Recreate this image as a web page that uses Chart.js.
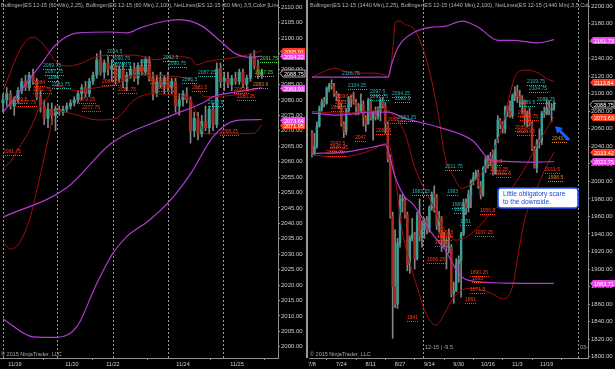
<!DOCTYPE html>
<html><head><meta charset="utf-8">
<script src="https://cdn.jsdelivr.net/npm/chart.js@4/dist/chart.umd.min.js"></script>
<style>
html,body{margin:0;padding:0;background:#000;}
#wrap{position:relative;width:615px;height:369px;background:#000;overflow:hidden;}
#cL{position:absolute;left:0;top:0;width:307px;height:369px;}
#cR{position:absolute;left:307px;top:0;width:308px;height:369px;}
#sep{position:absolute;left:306px;top:0;width:2px;height:358px;background:#9a9a9a;}
</style></head><body>
<div id="wrap"><canvas id="cL" width="307" height="369"></canvas><canvas id="cR" width="308" height="369"></canvas><div id="sep"></div></div>
<script>
// ---------------- DATA : hourly panel (ES 12-15, 60 min) ----------------
const hourTickIdx = [3.2, 18.4, 29.3, 48, 62.4];
const hourTickLabels = ['11/19','11/20','11/22','11/24','11/25'];
const hourSessions = [0, 14.4, 29.3, 44, 58.7];
// [open, high, low, close]
const hourBars = [
[2079,2082,2076,2080],[2080,2084,2078,2082],[2082,2083,2077,2078],[2078,2081,2075,2080],
[2080,2084,2079,2083],[2083,2087,2082,2086],[2086,2088,2083,2084],[2084,2089,2083,2088],
[2088,2090,2085,2086],[2086,2087,2080,2081],[2081,2083,2076,2078],[2078,2080,2072,2074],
[2074,2079,2071,2077],[2077,2079,2072,2075],[2075,2078,2070,2077],[2077,2078,2075,2076],
[2076,2078,2075,2077],[2077,2079,2076,2078],[2078,2080,2077,2079],[2079,2081,2078,2080],
[2080,2083,2079,2082],[2082,2085,2080,2084],[2084,2086,2081,2082],[2082,2087,2081,2086],
[2086,2089,2085,2088],[2088,2095,2087,2093],[2093,2096,2088,2089],[2089,2093,2087,2092],
[2092,2094,2088,2090],[2090,2093,2086,2091],[2091,2092,2085,2087],[2087,2091,2086,2090],
[2090,2092,2084,2086],[2086,2089,2083,2088],[2088,2091,2087,2090],[2090,2092,2086,2087],
[2087,2092,2085,2091],[2091,2093,2088,2089],[2089,2094,2088,2093],[2093,2094,2086,2087],
[2087,2089,2080,2082],[2082,2088,2081,2086],[2086,2089,2084,2085],[2085,2088,2082,2087],
[2087,2089,2083,2084],[2084,2087,2082,2086],[2086,2087,2076,2078],[2078,2082,2075,2080],
[2080,2083,2078,2082],[2082,2084,2079,2080],[2080,2081,2066,2070],[2070,2076,2068,2074],
[2074,2076,2067,2069],[2069,2075,2068,2073],[2073,2078,2070,2071],[2071,2078,2069,2077],
[2077,2079,2070,2072],[2072,2092,2071,2090],[2090,2092,2084,2086],[2086,2089,2083,2087],
[2087,2089,2084,2085],[2085,2088,2083,2087],[2087,2089,2085,2086],[2086,2090,2085,2089],
[2089,2090,2084,2085],[2085,2088,2083,2087],[2087,2095,2086,2094],[2094,2096,2090,2091],
[2091,2093,2087,2088],[2088,2090,2087,2088.75]
];
// Bollinger lines: [bar index, price]
const hBB25Up  = [[0,2083],[2,2089],[4,2095],[6,2099],[8,2100.3],[10,2099],[12,2096],[14,2092.5],[17,2091],[20,2091.5],[25,2094],[29,2094.5],[35,2094.5],[41,2093],[46,2094],[50,2093.6],[51.5,2091.3],[54,2092.3],[61,2093.6],[65,2094.5],[69,2095.91]];
const hBB25Mid = [[0,2058],[2,2060],[4,2064],[7,2070],[10,2078],[12,2081],[14,2084.5],[20,2083],[25,2084],[30,2085],[35,2088],[40,2088],[46,2087.5],[50,2086.5],[54,2081],[61,2081.5],[65,2082.5],[69,2083.93]];
const hBB25Low = [[0,2034],[2,2031.6],[4,2033],[7,2041],[10,2056],[12,2067],[14,2076.5],[20,2075],[25,2073.5],[30,2074],[35,2080],[40,2082],[46,2081.5],[50,2080],[52,2074],[54,2069],[60,2069],[67,2069.2],[69,2071.95]];
const hBB100Up  = [[0,2076],[6,2085],[11,2093],[14,2097.8],[20,2101.7],[29,2102],[33,2101.7],[37,2103.5],[43,2105.5],[47,2106],[53,2104],[58,2099],[62,2095],[66,2093.8],[69,2094.22]];
const hBB100Mid = [[0,2042],[17,2051.5],[29,2066],[44,2074.5],[54,2079.5],[56,2081],[62,2082.5],[69,2083.93]];
const hBB100Low = [[0,2009],[8,2003.2],[14.4,2003],[19.7,2006.5],[25,2020.5],[29.3,2030.3],[33,2035.7],[39,2041],[45,2048],[50,2056],[56,2068],[62,2073.3],[69,2073.64]];
// NetLines labels: [text, bar index, price]
const hCyanLabels = [['2094.5',27.7,2095.5],['2089.75',10.7,2091],['2087.75',11.2,2089.2],['2086',12,2087.2],['2083.75',13,2084.8],
  ['2091',36.5,2092.3],['2090.75',29,2093.2],['2089.5',30,2091],['2092.5',42.7,2093.6],['2090.75',44,2091.6],['2087.25',52,2088.7],['2086.5',47.7,2086.4],['2077.5',54.7,2079]];
const hRedLabels = [['2084',8.3,2085.4],['2082.75',7.9,2083.2],['2079.5',2.4,2080],['2077.75',4,2079],['2061.75',0,2063.1],
  ['2084.75',26.4,2085.7],['2081.75',30.7,2083.2],['2079.25',19.7,2080],['2077.75',21,2077.3],['2088.6',34.7,2089.7],
  ['2086.25',39.2,2086.4],['2083.75',40.5,2084],['2082.5',50.4,2083.8],['2068.25',57.9,2069.6],['2082.5',61.5,2083.3],['2080.25',62.5,2080.8]];
const hGreenLabels = [['2091.75',68.5,2093.2],['2087.25',67.2,2088.7]];
const hOrangeLabels = [['2083.6',66.7,2084.8]];
const hTagsBB25 = [2095.91, 2071.95];
const hTagsBB100 = [2094.22, 2083.93, 2073.64];
const hLast = 2088.75;

// ---------------- DATA : daily panel (ES 12-15, 1440 min) ----------------
const dayTickIdx = [0,12,24,36,48,60,72,84,96];
const dayTickLabels = ['7/8','7/24','8/11','8/27','9/14','9/30','10/16','11/3','11/19'];
const daySessions = [45.4, 108.8];
const dayBars = [
[2055,2058,2028,2032],[2032,2055,2030,2040],[2040,2068,2038,2063],[2063,2086,2062,2083],
[2083,2094,2080,2091],[2091,2096,2085,2089],[2089,2108,2088,2106],[2106,2112,2102,2110],
[2110,2116,2105,2109],[2109,2112,2097,2100],[2100,2103,2092,2097],[2097,2100,2083,2086],
[2086,2089,2063,2066],[2066,2068,2050,2057],[2057,2083,2053,2081],[2081,2097,2078,2095],
[2095,2098,2085,2094],[2094,2102,2088,2090],[2090,2094,2076,2085],[2085,2089,2076,2080],
[2080,2100,2079,2088],[2088,2092,2063,2073],[2073,2075,2057,2066],[2066,2095,2065,2093],
[2093,2094,2070,2072],[2072,2080,2047,2078],[2078,2085,2070,2074],[2074,2085,2071,2081],
[2081,2095,2069,2093],[2093,2096,2084,2086],[2086,2090,2055,2066],[2066,2068,2022,2025],
[2025,2030,1958,1960],[1960,1965,1821,1880],[1880,1945,1856,1860],[1860,1935,1855,1930],
[1930,1985,1925,1978],[1978,1985,1965,1980],[1980,1982,1958,1962],[1962,1965,1898,1905],
[1905,1938,1895,1935],[1935,1958,1932,1940],[1940,1942,1900,1912],[1912,1965,1910,1962],
[1962,1980,1932,1936],[1936,1955,1925,1945],[1945,1958,1935,1955],[1955,1960,1940,1945],
[1945,1972,1942,1970],[1970,1988,1967,1985],[1985,1995,1965,1982],[1982,1985,1945,1950],
[1950,1966,1942,1958],[1958,1960,1920,1932],[1932,1942,1925,1930],[1930,1935,1900,1925],
[1925,1946,1918,1925],[1925,1928,1868,1872],[1872,1885,1861,1875],[1875,1912,1874,1906],
[1906,1915,1885,1910],[1910,1942,1868,1940],[1940,1980,1938,1975],[1975,1980,1962,1970],
[1970,1990,1965,1985],[1985,2002,1970,2000],[2000,2010,1996,2005],[2005,2013,2002,2010],
[2010,2013,1992,1995],[1995,2000,1980,1985],[1985,2017,1983,2015],[2015,2028,2010,2025],
[2025,2030,2015,2028],[2028,2033,2018,2025],[2025,2036,2007,2010],[2010,2048,2008,2045],
[2045,2075,2044,2070],[2070,2072,2060,2065],[2065,2068,2055,2060],[2060,2086,2055,2085],
[2085,2087,2074,2080],[2080,2092,2073,2075],[2075,2100,2072,2098],[2098,2108,2092,2102],
[2102,2109.75,2090,2097],[2097,2104,2085,2093],[2093,2098,2078,2092],[2092,2093,2065,2073],
[2073,2080,2062,2076],[2076,2084,2064,2066],[2066,2068,2035,2037],[2037,2040,2015,2016],
[2016,2048,2010,2046],[2046,2060,2038,2045],[2045,2080,2042,2078],[2078,2085,2073,2077],
[2077,2093,2076,2084],[2084,2092,2076,2082],[2082,2088,2068,2083],[2083,2091,2081,2088.75]
];
const dBB25Up  = [[0,2119],[9.4,2129],[16.4,2123.6],[26,2123.6],[30,2121],[31.5,2119],[33,2150],[34.2,2182],[36,2183],[38.3,2178.5],[41,2176],[46.5,2142],[51.6,2078],[54.4,2028],[58,2005],[61.4,1992],[65.5,1998],[71,2016],[76,2047],[79,2075],[81,2100],[83.5,2122],[87.5,2127],[92.7,2123.6],[95.5,2118],[99,2113.84]];
const dBB25Mid = [[0,2080],[10,2078],[24,2080],[29,2083],[31.5,2080],[38,2055],[42,2016],[49,1975],[54.4,1944],[59,1933],[65,1940],[72,1960],[79,1982],[86,2010],[92.5,2043.6],[99,2073.63]];
const dBB25Low = [[0,2030],[10.6,2028],[17.6,2030],[24.5,2036],[30,2043],[31.5,2041],[34,2005],[36.8,1945],[40.9,1899],[43.4,1876],[46.5,1850],[50.7,1836],[54.4,1850],[57.5,1866],[61.4,1876],[65.5,1878],[73.6,1872],[77.7,1866],[82,1879.5],[84.4,1918],[87,1956],[92,1992],[95,2012],[99,2033.42]];
const dBB100Up  = [[0,2119],[31,2119],[32.7,2135],[35.2,2153],[42,2170.5],[49,2176],[54.4,2177],[61.4,2183],[68,2176],[76,2161],[82,2161],[92.5,2158],[99,2161.73]];
const dBB100Mid = [[0,2078],[10.6,2075.6],[24.5,2079],[31,2079],[38,2072],[51.6,2062],[65.5,2047],[73.6,2024],[92.5,2022],[99,2022.72]];
const dBB100Low = [[0,2032],[13.5,2033.5],[24.5,2039],[30,2041.6],[34,2005],[38,1982],[41,1975],[45,1959],[49,1941],[54.4,1922],[60,1895],[64,1887],[79,1884],[99,1883.71]];
const dCyanLabels = [['2116.75',12.3,2122.5],['2104.25',14.7,2108.6],['2097.5',23.7,2102],['2091.75',23.7,2096.6],['2094.25',32.7,2099.7],
  ['2088.5',34,2094],['2063.25',35.2,2072],['2011.75',54.4,2016.5],['1983.25',41,1987.7],['1983',55.2,1987.7],['1969',57.3,1973],
  ['1965',58,1967],['1951',60.6,1953.6],['2109.75',88,2113.4],['2104.75',88.8,2105.4],['2089.5',85,2089.4],['2088.25',92,2092.9]];
const dRedLabels = [['2093.25',10.2,2096.3],['2083.5',9.4,2089.4],['2080.8',7.8,2083.7],['2042.5',7.4,2042.7],['2036.25',7.4,2038],
  ['2028.75',5.7,2032.4],['2047',17.6,2049.5],['2062.5',26.2,2057.5],['2061.25',31,2070],['2018.5',71.6,2022],['2012.25',72.8,2013],
  ['2001.5',75.3,2008.4],['2056',84.3,2078],['2047.75',85.1,2073.5],['2035.5',83,2061],['2028.75',83.9,2056],['2011.5',95.3,2013],
  ['1950.5',68.7,1966],['1937.25',66.7,1941],['1929.5',51.6,1941],['1926.5',51.1,1936.4],['1924.5',50.3,1929.7],['1906.25',47,1910.3],
  ['1890.25',64.6,1895.5],['1883',65.5,1888.7],['1871.5',64.6,1876],['1861',62.6,1864.7],['1841',38.9,1844]];
const dOrangeLabels = [['2043.5',98,2048],['1998.5',96.6,2003.7]];
const dTagsBB25 = [2113.84, 2073.63, 2033.42];
const dTagsBB100 = [2161.73, 2022.75, 1883.71];
const dLast = 2088.75;

// ---------------- STYLE ----------------
const FONT = "'Liberation Sans', Arial, sans-serif";
Chart.defaults.font.family = FONT;
Chart.defaults.animation = false;
const AX='#8f8f8f', TXT='#cfcfcf';
const UP='#389f99', DN='#a5301d', WICK='#858585';
const RED_BB='#a30d0d', PUR_BB='#b13bd2';
const C_RED='#ff3b1c', C_CYAN='#2fb3ae', C_GREEN='#3ae03a', C_ORANGE='#e08a10';
const TAG_RED='#ff3b1f', TAG_MAG='#f046f0';

function lineDS(pts,color,w){
  return {type:'line',data:pts.map(p=>({x:p[0],y:p[1]})),borderColor:color,borderWidth:w,pointRadius:0,
          cubicInterpolationMode:'monotone',fill:false,order:0};
}
function drawLabels(chart,list,color){
  const g=chart.ctx,xs=chart.scales.x,ys=chart.scales.y;
  g.save();g.font="5px "+FONT;g.fillStyle=color;g.textBaseline='middle';
  for(const [t,xi,p] of list){
    const x=Math.round(xs.getPixelForValue(xi)),y=Math.round(ys.getPixelForValue(p));
    g.fillText(t,x,y);
    const w=g.measureText(t).width;
    for(let d=0;d<w;d+=2){g.fillRect(x+d,y+3,1,1);}
  }
  g.restore();
}
function drawTag(chart,v,fill,stroke){
  const g=chart.ctx,ys=chart.scales.y,x0=chart.chartArea.right+2,y=Math.round(ys.getPixelForValue(v))+0.5;
  g.save();
  g.beginPath();g.moveTo(x0,y);g.lineTo(x0+3,y-3.5);g.lineTo(x0+25,y-3.5);g.lineTo(x0+25,y+3.5);g.lineTo(x0+3,y+3.5);g.closePath();
  g.fillStyle=fill;g.fill();
  if(stroke){g.strokeStyle=stroke;g.lineWidth=1;g.stroke();}
  g.fillStyle='#fff';g.font="5.5px "+FONT;g.textBaseline='middle';g.fillText(v.toFixed(2),x0+4,y+0.5);
  g.restore();
}

function panel(id,o){
  const bars=o.bars;
  const ds=[
    {type:'bar',data:bars.map((b,i)=>({x:i,y:[b[2],b[1]]})),backgroundColor:WICK,barThickness:1,grouped:false,order:3},
    {type:'bar',data:bars.map((b,i)=>({x:i,y:[b[0],b[3]]})),backgroundColor:bars.map(b=>b[3]>=b[0]?UP:DN),
     barThickness:o.bw,minBarLength:1,grouped:false,order:2},
    lineDS(o.bb100[0],PUR_BB,1.2),lineDS(o.bb100[1],PUR_BB,1.2),lineDS(o.bb100[2],PUR_BB,1.2),
    lineDS(o.bb25[0],RED_BB,1),lineDS(o.bb25[1],RED_BB,1),lineDS(o.bb25[2],RED_BB,1)
  ];
  const deco={
    id:'deco'+id,
    beforeDraw(c){const g=c.ctx;g.save();g.fillStyle='#000';g.fillRect(0,0,c.width,c.height);g.restore();},
    beforeDatasetsDraw(c){
      const g=c.ctx,a=c.chartArea,xs=c.scales.x;
      g.save();g.strokeStyle='#9a9a9a';g.lineWidth=1;g.setLineDash([2,2]);
      for(const s of o.sessions){const x=Math.round(xs.getPixelForValue(s))+0.5;g.beginPath();g.moveTo(x,a.top);g.lineTo(x,a.bottom);g.stroke();}
      g.restore();
    },
    afterDatasetsDraw(c){
      drawLabels(c,o.red,C_RED);drawLabels(c,o.cyan,C_CYAN);
      if(o.green)drawLabels(c,o.green,C_GREEN);
      if(o.orange)drawLabels(c,o.orange,C_ORANGE);
    },
    afterDraw(c){
      const g=c.ctx,a=c.chartArea;
      o.tags25.forEach(v=>drawTag(c,v,TAG_RED));
      o.tags100.forEach(v=>drawTag(c,v,TAG_MAG));
      drawTag(c,o.last,'#000','#b0b0b0');
      g.save();
      g.beginPath();g.rect(a.left,0,a.right-a.left,a.bottom);g.clip();
      g.fillStyle='#b4b4b4';g.font="5.5px "+FONT;g.textBaseline='middle';
      g.fillText(o.header,a.left+1,5);
      g.fillStyle='#a8a8a8';g.font="5.5px "+FONT;
      g.fillText('\u00a9 2015 NinjaTrader, LLC',a.left+1,a.bottom-4);
      if(o.extra)o.extra(c,g);
      g.restore();
    }
  };
  new Chart(document.getElementById(id),{
    type:'bar',
    data:{datasets:ds},
    options:{
      responsive:false,animation:false,
      layout:{padding:{left:o.padLeft,right:0,top:0,bottom:0}},
      plugins:{legend:{display:false},tooltip:{enabled:false}},
      scales:{
        x:{type:'linear',min:o.xmin,max:o.xmax,offset:false,
           grid:{display:true,drawOnChartArea:false,drawTicks:true,tickLength:2,color:AX},
           border:{display:true,color:AX},
           afterBuildTicks:s=>{s.ticks=o.tickIdx.map(v=>({value:v}));},
           afterFit:s=>{s.height=11;s.paddingLeft=0;s.paddingRight=0;},
           ticks:{autoSkip:false,maxRotation:0,color:TXT,font:{size:5.5},padding:1,
                  callback:(v,i)=>o.tickLabels[i]}},
        y:{type:'linear',position:'right',min:o.ymin,max:o.ymax,
           grid:{display:true,drawOnChartArea:false,drawTicks:true,tickLength:2,color:AX},
           border:{display:true,color:AX},
           afterFit:s=>{s.width=o.axisW;s.paddingTop=0;s.paddingBottom=0;},
           ticks:{stepSize:o.step,includeBounds:false,color:TXT,font:{size:6},padding:1,
                  callback:v=>Number(v).toFixed(2)}}
      }
    },
    plugins:[deco]
  });
}

panel('cL',{
  bars:hourBars,bw:2.5,bb25:[hBB25Up,hBB25Mid,hBB25Low],bb100:[hBB100Up,hBB100Mid,hBB100Low],
  sessions:hourSessions,tickIdx:hourTickIdx,tickLabels:hourTickLabels,
  red:hRedLabels,cyan:hCyanLabels,green:hGreenLabels,orange:hOrangeLabels,
  tags25:hTagsBB25,tags100:hTagsBB100,last:hLast,
  xmin:-0.8,xmax:73.33,ymin:1996.34,ymax:2112.38,step:5,axisW:29,padLeft:0,
  header:'Bollinger(ES 12-15 (60 Min),2,25), Bollinger(ES 12-15 (60 Min),2,100), NetLines(ES 12-15 (60 Min),3,5,Color [Line],Color [Line],Color [Line])'
});

panel('cR',{
  bars:dayBars,bw:1.8,bb25:[dBB25Up,dBB25Mid,dBB25Low],bb100:[dBB100Up,dBB100Mid,dBB100Low],
  sessions:daySessions,tickIdx:dayTickIdx,tickLabels:dayTickLabels,
  red:dRedLabels,cyan:dCyanLabels,orange:dOrangeLabels,
  tags25:dTagsBB25,tags100:dTagsBB100,last:dLast,
  xmin:-1.23,xmax:112.9,ymin:1798.5,ymax:2207,step:20,axisW:27,padLeft:2,
  header:'Bollinger(ES 12-15 (1440 Min),2,25), Bollinger(ES 12-15 (1440 Min),2,100), NetLines(ES 12-15 (1440 Min),3,5,Color [Line],Color [Line])',
  extra:(c,g)=>{
    const xs=c.scales.x,a=c.chartArea;
    g.fillStyle='#a8a8a8';g.font="5.5px "+FONT;
    g.fillText('12-15 | -9.5',xs.getPixelForValue(daySessions[0])+2,a.bottom-11);
    g.fillText('03-16 | ',xs.getPixelForValue(daySessions[1])+2,a.bottom-11);
    // callout note
    const bx=191,by=188,bw=80,bh=20;
    g.beginPath();g.roundRect(bx,by,bw,bh,3);g.fillStyle='#ffffff';g.fill();
    g.lineWidth=1.6;g.strokeStyle='#1d4cff';g.stroke();
    g.fillStyle='#2046d8';g.font="6.6px "+FONT;g.textBaseline='middle';
    g.fillText('Little obligatory scare',bx+5,by+6);
    g.fillText('to the downside.',bx+5,by+14);
    // arrow
    const tx=262,ty=140,hx=248,hy=126;
    const dx=hx-tx,dy=hy-ty,L=Math.hypot(dx,dy),ux=dx/L,uy=dy/L;
    g.strokeStyle='#1d5cff';g.fillStyle='#1d5cff';g.lineWidth=3;
    g.beginPath();g.moveTo(tx,ty);g.lineTo(hx-ux*5,hy-uy*5);g.stroke();
    g.beginPath();g.moveTo(hx,hy);g.lineTo(hx-ux*7-uy*4,hy-uy*7+ux*4);g.lineTo(hx-ux*7+uy*4,hy-uy*7-ux*4);g.closePath();g.fill();
  }
});
</script>
</body></html>
